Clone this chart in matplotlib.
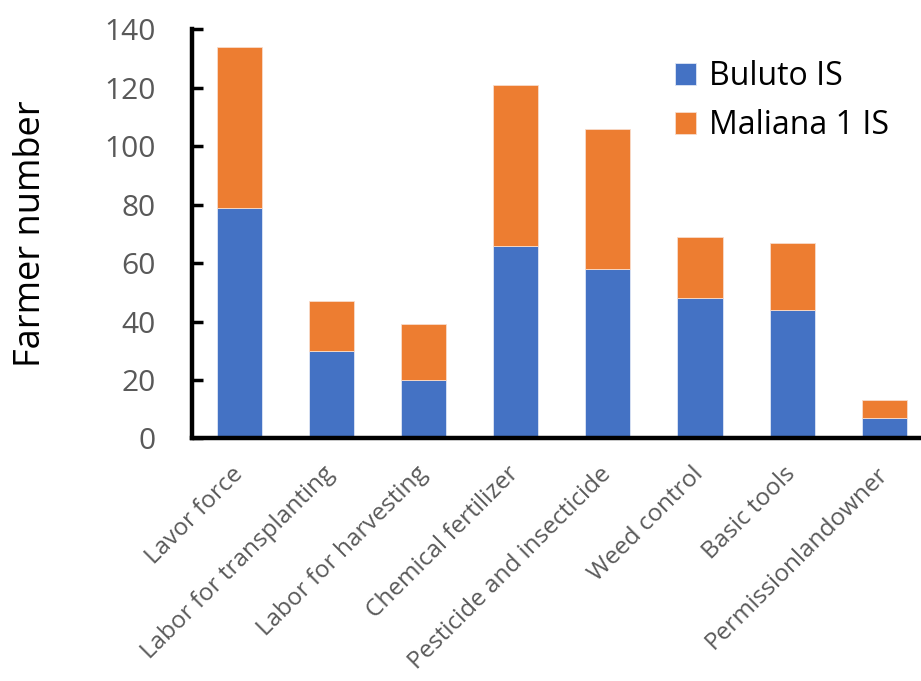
import numpy as np
import matplotlib
matplotlib.use('Agg')
import matplotlib.pyplot as plt

# constraints reported by farmers, per irrigation scheme
categories = ['Lavor force', 'Labor for transplanting', 'Labor for harvesting',
              'Chemical fertilizer', 'Pesticide and insecticide', 'Weed control',
              'Basic tools', 'Permissionlandowner']
buluto = [79, 30, 20, 66, 58, 48, 44, 7]
maliana = [55, 17, 19, 55, 48, 21, 23, 6]
yticks = [0, 20, 40, 60, 80, 100, 120, 140]

plt.rcParams['font.family'] = ['Open Sans', 'DejaVu Sans']

fig = plt.figure(figsize=(9.21, 6.81), dpi=100)
ax = fig.add_axes([0.2081, 0.3561, 0.792, 0.601])

x = np.arange(len(categories))
ax.bar(x, buluto, width=0.49, color='#4472C4', edgecolor='#dfe6f5', linewidth=0.6, label='Buluto IS')
ax.bar(x, maliana, width=0.49, bottom=buluto, color='#ED7D31', edgecolor='#f8dccb', linewidth=0.6, label='Maliana 1 IS')

ax.set_xlim(-0.516, 7.40)
ax.set_ylim(0, 140)
ax.set_yticks(yticks)
ax.set_xticks(x)
ax.set_xticklabels(categories, rotation=45, ha='right', rotation_mode='anchor', va='center')

for s in ['top', 'right']:
    ax.spines[s].set_visible(False)
for s in ['left', 'bottom']:
    ax.spines[s].set_linewidth(3.2)
    ax.spines[s].set_color('black')

ax.tick_params(axis='y', direction='in', length=8, width=2.5, pad=26, labelsize=21.5, labelcolor='#595959')
ax.tick_params(axis='x', length=0, pad=23, labelsize=17.5, labelcolor='#595959')

ax.set_ylabel('Farmer number', fontsize=26, color='black')
ax.yaxis.set_label_coords(-0.1957, 0.5)

ax.legend(loc='upper left', bbox_to_anchor=(675 / 921, 1 - 60 / 681), bbox_transform=fig.transFigure,
          frameon=False, fontsize=23, handlelength=0.66, handleheight=0.66, handletextpad=0.4,
          labelspacing=0.5, borderpad=0, borderaxespad=0)

fig.savefig('out.png', dpi=100)
